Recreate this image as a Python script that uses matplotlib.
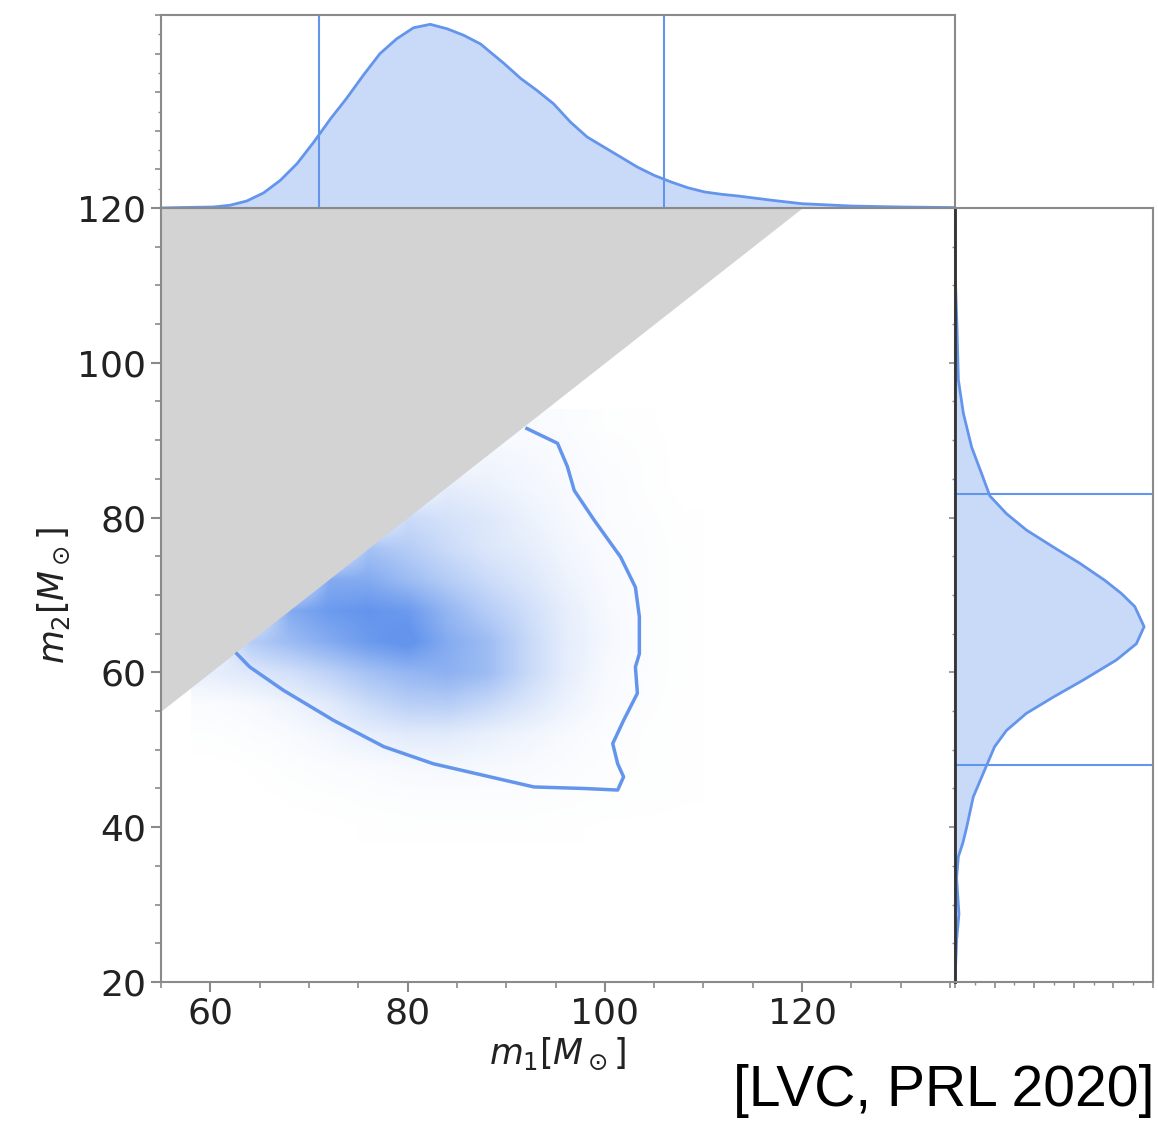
import numpy as np
import matplotlib
matplotlib.use("Agg")
from matplotlib import pyplot as plt
from matplotlib.colors import LinearSegmentedColormap
from matplotlib.ticker import MultipleLocator, NullFormatter

# --- data ---
# 2D posterior (relative density, 0-10) on a coarse m1/m2 grid
m1_centers = [60, 64, 68, 72, 76, 80, 84, 88, 92, 96, 100, 104, 108]
m2_centers = [40, 44, 48, 52, 56, 60, 64, 68, 72, 76, 80, 84, 88, 92]
density = [
    [0, 0, 0, 0, 0.05, 0.05, 0.05, 0.05, 0.05, 0.05, 0.02, 0, 0],        # 40
    [0, 0, 0.05, 0.1, 0.15, 0.2, 0.2, 0.2, 0.2, 0.15, 0.1, 0.1, 0.05],   # 44
    [0, 0.05, 0.15, 0.3, 0.4, 0.6, 0.7, 0.6, 0.5, 0.3, 0.15, 0.1, 0.05], # 48
    [0.1, 0.2, 0.4, 0.8, 1.4, 1.8, 1.8, 1.3, 0.9, 0.5, 0.2, 0.1, 0.05],  # 52
    [0.3, 0.5, 1.0, 1.8, 3.2, 4.3, 4.5, 3.5, 2.3, 1.1, 0.4, 0.15, 0.05], # 56
    [1.5, 2.0, 2.8, 4.0, 5.5, 6.5, 7.0, 6.0, 3.5, 1.6, 0.5, 0.2, 0.05],  # 60
    [0, 4.5, 6.0, 7.5, 9.0, 10, 7.5, 6.0, 3.5, 1.6, 0.7, 0.2, 0.05],     # 64
    [0, 0, 7.5, 9.0, 9.5, 9.0, 6.5, 4.5, 3.0, 1.5, 0.6, 0.2, 0.05],      # 68
    [0, 0, 0, 7.5, 7.5, 6.0, 4.5, 3.2, 2.2, 1.1, 0.5, 0.2, 0.05],        # 72
    [0, 0, 0, 0, 5.5, 4.5, 3.2, 2.2, 1.6, 0.8, 0.4, 0.2, 0.05],          # 76
    [0, 0, 0, 0, 0, 3.2, 2.6, 2.0, 1.2, 0.6, 0.3, 0.15, 0.05],           # 80
    [0, 0, 0, 0, 0, 0, 1.6, 1.2, 0.8, 0.5, 0.3, 0.1, 0],                 # 84
    [0, 0, 0, 0, 0, 0, 0, 0.8, 0.6, 0.4, 0.2, 0.1, 0],                   # 88
    [0, 0, 0, 0, 0, 0, 0, 0, 0.4, 0.3, 0.1, 0.05, 0],                    # 92
]

# 90% credible contour
contour_m1 = [92.1, 95.2, 96.2, 96.9, 98.9, 101.6, 103.1, 103.5, 103.5, 103.1,
              103.3, 101.9, 100.8, 101.3, 101.9, 101.3, 97.9, 92.8, 87.7, 82.6,
              77.6, 72.5, 67.4, 64.0, 62.7]
contour_m2 = [91.5, 89.6, 86.6, 83.5, 79.7, 74.9, 71.0, 67.2, 62.4, 60.7,
              57.3, 53.8, 50.8, 48.2, 46.5, 44.8, 45.0, 45.2, 46.7, 48.2,
              50.4, 53.8, 57.7, 60.7, 62.4]

# marginal of m1 (relative height)
m1_marg_x = [55, 56.9, 60.3, 62.0, 63.7, 65.4, 67.1, 68.8, 70.5, 72.2, 73.8, 75.5,
             77.2, 78.9, 80.6, 82.3, 84.0, 85.7, 87.4, 89.8, 91.5, 93.1, 94.8,
             96.5, 98.2, 99.9, 101.6, 103.3, 105.0, 106.7, 108.4, 110.1, 111.8,
             113.5, 116.9, 120, 125, 130, 135.5]
m1_marg_y = [0.0, 0.002, 0.005, 0.014, 0.036, 0.078, 0.143, 0.23, 0.342, 0.463,
             0.567, 0.687, 0.80, 0.877, 0.934, 0.952, 0.929, 0.895, 0.85, 0.748,
             0.67, 0.61, 0.54, 0.446, 0.368, 0.316, 0.264, 0.212, 0.169, 0.135,
             0.105, 0.083, 0.071, 0.062, 0.04, 0.022, 0.01, 0.005, 0.002]
m1_bounds = [71, 106]

# marginal of m2 (relative height)
m2_marg_y = [20, 25.4, 28.8, 33.5, 36.2, 38.0, 40.0, 43.9, 48.0, 50.4, 52.5,
             54.7, 56.8, 59.0, 61.6, 63.7, 65.9, 68.5, 70.2, 71.9, 74.1, 76.2,
             78.4, 80.5, 82.8, 85.7, 89.1, 93.5, 97.8, 104.6, 110, 120]
m2_marg_x = [0.0, 0.008, 0.02, 0.008, 0.017, 0.04, 0.059, 0.092, 0.16, 0.20,
             0.26, 0.36, 0.496, 0.647, 0.815, 0.916, 0.955, 0.908, 0.84, 0.756,
             0.63, 0.496, 0.36, 0.26, 0.176, 0.134, 0.084, 0.042, 0.017, 0.01,
             0.003, 0.0]
m2_bounds = [48, 83]

m1_lim = (55, 135.5)
m2_lim = (20, 120)

blue = "cornflowerblue"
spine_col = "#8a8a8a"
label_col = "#222222"

fig = plt.figure(figsize=(11.58, 11.32), dpi=100)
ax = fig.add_axes([0.139, 0.1325, 0.6857, 0.6838])
ax_top = fig.add_axes([0.139, 0.8163, 0.6857, 0.1704])
ax_right = fig.add_axes([0.8247, 0.1325, 0.171, 0.6838])

cmap = LinearSegmentedColormap.from_list("wb", ["white", blue])
dx = m1_centers[1] - m1_centers[0]
dy = m2_centers[1] - m2_centers[0]
extent = [m1_centers[0] - dx / 2, m1_centers[-1] + dx / 2,
          m2_centers[0] - dy / 2, m2_centers[-1] + dy / 2]
ax.imshow(np.array(density), origin="lower", extent=extent, cmap=cmap,
          vmin=0, vmax=9.5, interpolation="bilinear", aspect="auto", zorder=1)

# excluded region m2 > m1
diag = np.array([m1_lim[0], m2_lim[1]])
ax.fill_between(diag, diag, m2_lim[1], color="lightgray", zorder=2, lw=0)

ax.plot(contour_m1, contour_m2, color=blue, lw=2.5, zorder=3)

ax.set_xlim(*m1_lim)
ax.set_ylim(*m2_lim)
ax.xaxis.set_major_locator(MultipleLocator(20))
ax.xaxis.set_minor_locator(MultipleLocator(5))
ax.yaxis.set_major_locator(MultipleLocator(20))
ax.yaxis.set_minor_locator(MultipleLocator(5))
ax.tick_params(which="major", length=7, width=1.5, color=spine_col,
               labelsize=26, labelcolor=label_col)
ax.tick_params(which="minor", length=4, width=1.2, color=spine_col)
ax.set_xlabel(r"$m_1[M_\odot]$", fontsize=25, color=label_col)
ax.set_ylabel(r"$m_2[M_\odot]$", fontsize=25, color=label_col)

# top marginal
ax_top.fill_between(m1_marg_x, m1_marg_y, 0, color=blue, alpha=0.35, lw=0)
ax_top.plot(m1_marg_x, m1_marg_y, color=blue, lw=2)
for b in m1_bounds:
    ax_top.axvline(b, color=blue, lw=1.5)
ax_top.set_xlim(*m1_lim)
ax_top.set_ylim(0, 1)
ax_top.set_xticks([])
ax_top.yaxis.set_major_locator(MultipleLocator(0.2))
ax_top.yaxis.set_minor_locator(MultipleLocator(0.1))
ax_top.yaxis.set_major_formatter(NullFormatter())
ax_top.tick_params(which="major", length=4, width=1.2, color=spine_col)
ax_top.tick_params(which="minor", length=2.5, width=1, color=spine_col)

# right marginal
ax_right.fill_betweenx(m2_marg_y, m2_marg_x, 0, color=blue, alpha=0.35, lw=0)
ax_right.plot(m2_marg_x, m2_marg_y, color=blue, lw=2)
for b in m2_bounds:
    ax_right.axhline(b, color=blue, lw=1.5)
ax_right.set_ylim(*m2_lim)
ax_right.set_xlim(0, 1)
ax_right.yaxis.set_major_locator(MultipleLocator(20))
ax_right.yaxis.set_minor_locator(MultipleLocator(5))
ax_right.yaxis.set_major_formatter(NullFormatter())
ax_right.xaxis.set_major_locator(MultipleLocator(0.2))
ax_right.xaxis.set_minor_locator(MultipleLocator(0.1))
ax_right.xaxis.set_major_formatter(NullFormatter())
ax_right.tick_params(which="major", length=4, width=1.2, color=spine_col)
ax_right.tick_params(which="minor", length=2.5, width=1, color=spine_col)
ax_right.spines["left"].set_color("#333333")
ax_right.spines["left"].set_linewidth(2)

for a in (ax, ax_top, ax_right):
    for name, sp in a.spines.items():
        if a is ax_right and name == "left":
            continue
        sp.set_color(spine_col)
        sp.set_linewidth(1.5)

fig.text(0.997, 0.012, "[LVC, PRL 2020]", ha="right", va="bottom",
         fontsize=41, family="Liberation Sans", color="black")

fig.savefig("out.png", dpi=100)
